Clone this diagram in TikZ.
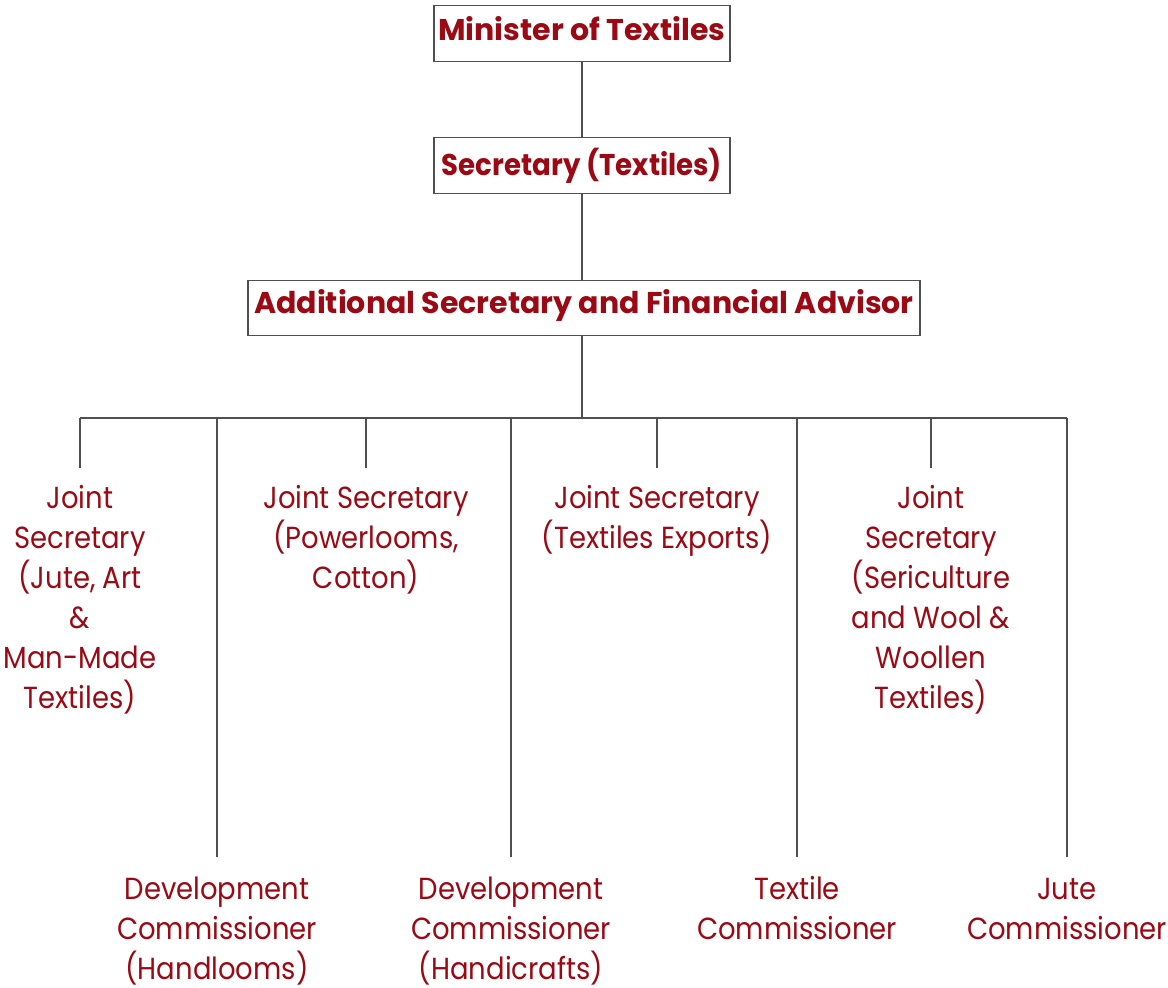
\documentclass[tikz,border=0pt]{standalone}
\usepackage{fontspec}
\usepackage{graphicx}
\setmainfont{Poppins}[FakeStretch=0.9, BoldFeatures={FakeStretch=1.0}]
\definecolor{org}{RGB}{155,10,20}
\definecolor{edge}{RGB}{80,80,80}
\begin{document}
\begin{tikzpicture}[x=1pt,y=1pt,
  box/.style={draw=edge, line width=1.3pt, fill=white, inner xsep=0pt, inner ysep=0pt,
    font=\fontsize{30}{40}\selectfont\bfseries, text=org, anchor=north},
  unit/.style={anchor=north, inner sep=0pt, align=center,
    font=\fontsize{30.5}{40}\selectfont, text=org},
  link/.style={draw=edge, line width=1.2pt}]
\useasboundingbox (0,0) rectangle (1168,-988);
\node[box, minimum width=296, text height=35, text depth=21] (min) at (582,-5) {Minister of Textiles};
\node[box, minimum width=296, text height=38, text depth=18] (sec) at (582,-137) {\scalebox{0.92}[1]{Secretary (Textiles)}};
\node[box, minimum width=672, text height=33, text depth=22] (asf) at (584,-280) {Additional Secretary and Financial Advisor};
\coordinate (bus) at (582,-418);
\node[unit] (js1) at (80,-480) {\rule{0pt}{28pt}Joint\\Secretary\\(Jute, Art\\\&\\Man-Made\\Textiles)};
\node[unit] (js2) at (366,-480) {\rule{0pt}{28pt}Joint Secretary\\(Powerlooms,\\Cotton)};
\node[unit] (js3) at (657,-480) {\rule{0pt}{28pt}Joint Secretary\\(Textiles Exports)};
\node[unit] (js4) at (931,-480) {\rule{0pt}{28pt}Joint\\Secretary\\(Sericulture\\and Wool \&\\Woollen\\Textiles)};
\node[unit] (dch) at (217,-871) {\rule{0pt}{28pt}Development\\Commissioner\\(Handlooms)};
\node[unit] (dcc) at (511,-871) {\rule{0pt}{28pt}Development\\Commissioner\\(Handicrafts)};
\node[unit] (tc) at (797,-871) {\rule{0pt}{28pt}Textile\\Commissioner};
\node[unit] (jc) at (1067,-871) {\rule{0pt}{28pt}Jute\\Commissioner};
\draw[link] (min.south) -- (sec.north);
\draw[link] (sec.south) -- (sec.south |- asf.north);
\draw[link] (sec.south |- asf.south) -- (bus);
\draw[link] (js1.north |- bus) -- (jc.north |- bus);
\foreach \n in {js1,js2,js3,js4}
  \draw[link, shorten >=12pt] (\n.north |- bus) -- (\n.north);
\foreach \n in {dch,dcc,tc,jc}
  \draw[link, shorten >=14pt] (\n.north |- bus) -- (\n.north);
\end{tikzpicture}
\end{document}
